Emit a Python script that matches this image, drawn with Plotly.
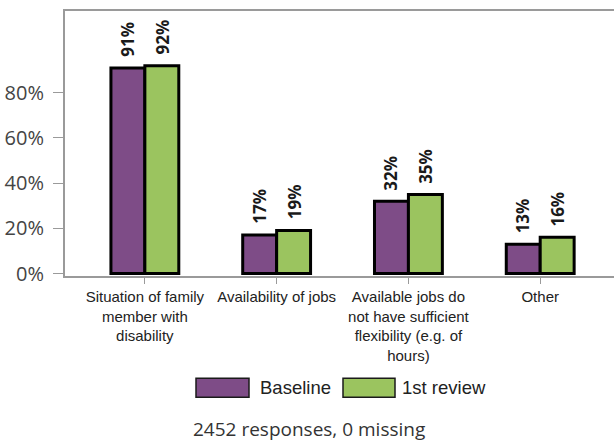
import plotly.graph_objects as go

categories = [
    "Situation of family<br>member with<br>disability",
    "Availability of jobs",
    "Available jobs do<br>not have sufficient<br>flexibility (e.g. of<br>hours)",
    "Other",
]
series_names = ["Baseline", "1st review"]
baseline = [91, 17, 32, 13]
first_review = [92, 19, 35, 16]
y_ticks = [0, 20, 40, 60, 80]
y_tick_labels = ["0%", "20%", "40%", "60%", "80%"]
footer = "2452 responses, 0 missing"

colors = ["#7E4C87", "#9BC45F"]

W, H = 614, 441
ML, MR, MT, MB = 65, 0, 11, 164.5
PW = W - ML - MR
PH = H - MT - MB


def px2x(px):
    return (px - ML) / PW


def px2y(py):
    return (H - MB - py) / PH


fig = go.Figure()
for name, vals, col in zip(series_names, [baseline, first_review], colors):
    fig.add_trace(go.Bar(
        x=categories, y=vals, name=name,
        marker=dict(color=col, line=dict(color="#000000", width=3)),
        showlegend=False,
    ))

# value labels above bars
for j, vals in enumerate([baseline, first_review]):
    for c, v in zip(categories, vals):
        fig.add_annotation(
            x=c, y=v, xref="x", yref="y", text=f"<b>{v}%</b>",
            textangle=-90, showarrow=False, xanchor="center", yanchor="bottom",
            xshift=(-17.5 if j == 0 else 17.5), yshift=9,
            font=dict(family="Open Sans", size=17, color="#1a1a1a"),
        )

# manual legend
legend_items = [(196, 249, 258), (343, 395, 400)]
for (x0, x1, tx), name, col in zip(legend_items, series_names, colors):
    fig.add_shape(type="rect", xref="paper", yref="paper",
                  x0=px2x(x0), x1=px2x(x1), y0=px2y(379), y1=px2y(398),
                  fillcolor=col, line=dict(color="#1a1a1a", width=1.5))
    fig.add_annotation(x=px2x(tx), y=px2y(388.5), xref="paper", yref="paper",
                       text=name, showarrow=False, xanchor="left", yanchor="middle",
                       font=dict(family="Liberation Sans", size=18.5, color="#222"))

fig.add_annotation(x=px2x(309), y=px2y(430), xref="paper", yref="paper",
                   text=footer, showarrow=False, xanchor="center", yanchor="middle",
                   borderpad=0,
                   font=dict(family="Open Sans", size=19, color="#333"))

fig.update_layout(
    width=W, height=H,
    margin=dict(l=ML, r=MR, t=MT, b=MB, pad=0),
    paper_bgcolor="white", plot_bgcolor="white",
    barmode="group", bargap=0.485, bargroupgap=0,
    showlegend=False,
)
fig.update_xaxes(
    range=[-0.606, 3.56], showline=True, linecolor="#9a9a9a", linewidth=2,
    mirror=True, ticks="outside", ticklen=6, tickcolor="#9a9a9a", tickwidth=1,
    tickfont=dict(family="Liberation Sans", size=15, color="#222"),
    showgrid=False, zeroline=False,
)
fig.update_yaxes(
    range=[-1.1, 116.2], tickvals=y_ticks, ticktext=y_tick_labels,
    showline=True, linecolor="#9a9a9a", linewidth=2, mirror=False,
    ticks="outside", ticklen=10, tickcolor="#9a9a9a", tickwidth=1,
    ticklabelstandoff=5,
    tickfont=dict(family="Open Sans", size=20, color="#444"),
    showgrid=False, zeroline=False,
)

fig.write_html(
    "out.html",
    config={"displayModeBar": False},
    post_script="document.body.style.margin='0';document.body.style.overflow='hidden';",
)
